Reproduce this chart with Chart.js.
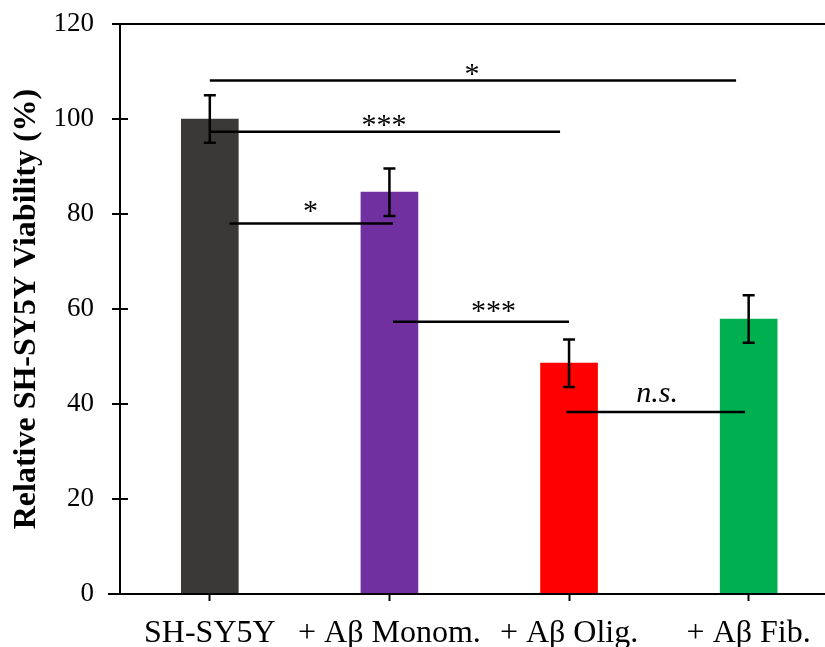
<!DOCTYPE html>
<html>
<head>
<meta charset="utf-8">
<script src="https://cdn.jsdelivr.net/npm/chart.js@4.4.1/dist/chart.umd.min.js"></script>
<style>
  html, body { margin: 0; padding: 0; background: #fff; overflow: hidden; }
</style>
</head>
<body>
<canvas id="viabilidad" width="825" height="647"></canvas>
<script>
const categorias = ['SH-SY5Y', '+ Aβ Monom.', '+ Aβ Olig.', '+ Aβ Fib.'];
const viabilidad = [100, 84.6, 48.6, 57.9];
const errores = [5, 5, 5, 5];
const colores = ['#3B3838', '#7030A0', '#FF0000', '#00B050'];
const ticksY = [0, 20, 40, 60, 80, 100, 120];

// comparaciones: extremos en posición de categoría, altura en %
const compDesde = [0, 0, 0.11, 1.02, 1.985];
const compHasta = [2.93, 1.95, 1.02, 2.0, 2.98];
const compNivel = [108.1, 97.3, 78.0, 57.3, 38.3];
const compTexto = ['*', '***', '*', '***', 'n.s.'];
const compTextoX = [1.46, 0.97, 0.56, 1.58, 2.49];
const compTextoY = [107.6, 96.9, 78.8, 57.7, 40.5];

const marcas = {
  id: 'marcas',
  afterDatasetsDraw(chart) {
    const { ctx, chartArea, scales: { x, y } } = chart;
    ctx.save();
    ctx.strokeStyle = '#000';
    ctx.fillStyle = '#000';
    ctx.lineWidth = 2;

    // eje X encima de las barras, sobresale un poco a la izquierda
    const y0 = y.getPixelForValue(0);
    ctx.beginPath();
    ctx.moveTo(chartArea.left - 12, y0);
    ctx.lineTo(chartArea.right, y0);
    ctx.stroke();

    // marcas del eje Y hacia dentro
    ticksY.forEach(v => {
      const py = y.getPixelForValue(v);
      ctx.beginPath();
      ctx.moveTo(chartArea.left, py);
      ctx.lineTo(chartArea.left + 8, py);
      ctx.stroke();
    });

    // barras de error
    ctx.lineWidth = 2.5;
    viabilidad.forEach((v, i) => {
      const px = x.getPixelForValue(i);
      const arriba = y.getPixelForValue(v + errores[i]);
      const abajo = y.getPixelForValue(v - errores[i]);
      ctx.beginPath();
      ctx.moveTo(px, arriba); ctx.lineTo(px, abajo);
      ctx.moveTo(px - 6, arriba); ctx.lineTo(px + 6, arriba);
      ctx.moveTo(px - 6, abajo); ctx.lineTo(px + 6, abajo);
      ctx.stroke();
    });

    // líneas de significancia
    compNivel.forEach((nivel, i) => {
      const py = y.getPixelForValue(nivel);
      ctx.beginPath();
      ctx.moveTo(x.getPixelForValue(compDesde[i]), py);
      ctx.lineTo(x.getPixelForValue(compHasta[i]), py);
      ctx.stroke();

      const ns = compTexto[i] === 'n.s.';
      ctx.font = (ns ? 'italic ' : '') + '30px "Liberation Serif"';
      ctx.textAlign = 'center';
      ctx.textBaseline = 'alphabetic';
      ctx.fillText(compTexto[i], x.getPixelForValue(compTextoX[i]), y.getPixelForValue(compTextoY[i]));
    });

    ctx.restore();
  }
};

new Chart(document.getElementById('viabilidad'), {
  type: 'bar',
  data: {
    datasets: [{
      data: viabilidad.map((v, i) => ({ x: i, y: v })),
      backgroundColor: colores,
      barThickness: 57
    }]
  },
  options: {
    responsive: false,
    animation: false,
    layout: { padding: { top: 24, right: 0, left: 0, bottom: 0 } },
    plugins: { legend: { display: false }, tooltip: { enabled: false } },
    scales: {
      x: {
        type: 'linear',
        min: -0.5,
        max: 3.425,
        offset: false,
        afterBuildTicks: s => { s.ticks = categorias.map((_, i) => ({ value: i })); },
        afterFit: s => { s.height = 53; },
        ticks: {
          callback: v => categorias[v],
          color: '#000',
          font: { family: 'Liberation Serif', size: 32 },
          padding: 13,
          maxRotation: 0,
          autoSkip: false
        },
        grid: { offset: false, drawOnChartArea: false, tickLength: 7, tickColor: '#000', tickWidth: 2 },
        border: { color: '#000', width: 2 }
      },
      y: {
        min: 0,
        max: 120,
        afterBuildTicks: s => { s.ticks = ticksY.map(v => ({ value: v })); },
        afterFit: s => {
          s.width = 120;
          s.paddingTop = 0;
          s.paddingBottom = 0;
        },
        ticks: { color: '#000', font: { family: 'Liberation Serif', size: 27 }, padding: 18 },
        grid: {
          color: c => (c.tick && c.tick.value === 120 ? '#000' : 'rgba(0,0,0,0)'),
          lineWidth: 2,
          tickLength: 8,
          tickColor: '#000',
          tickWidth: 2
        },
        border: { color: '#000', width: 2 },
        title: {
          display: true,
          text: 'Relative SH-SY5Y Viability (%)',
          color: '#000',
          font: { family: 'Liberation Serif', size: 32, weight: 'bold' },
          padding: { top: 8, bottom: 0 }
        }
      }
    }
  },
  plugins: [marcas]
});
</script>
</body>
</html>
